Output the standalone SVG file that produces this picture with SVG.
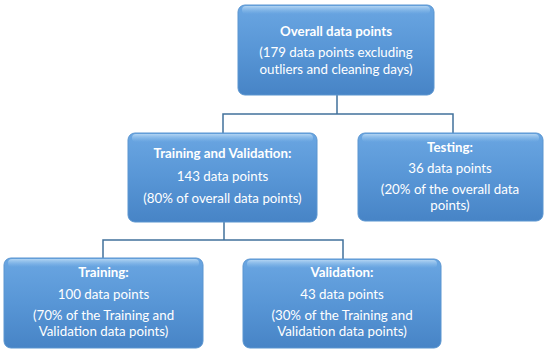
<svg xmlns="http://www.w3.org/2000/svg" width="550" height="356" viewBox="0 0 550 356">
<defs>
<linearGradient id="g" x1="0" y1="0" x2="0" y2="1">
<stop offset="0" stop-color="#6aa6e2"/>
<stop offset="0.5" stop-color="#5896d6"/>
<stop offset="1" stop-color="#4784c6"/>
</linearGradient>
<linearGradient id="hl" x1="0" y1="0" x2="0" y2="1">
<stop offset="0" stop-color="#b8d8f4" stop-opacity="0.9"/>
<stop offset="1" stop-color="#8fc0ec" stop-opacity="0"/>
</linearGradient>
<style>
.box{fill:url(#g);stroke:#5a95d0;stroke-width:1}
.hl{fill:url(#hl)}
.t{font-family:Lato,"Liberation Sans",sans-serif;font-size:13.3px;fill:#ffffff;text-anchor:middle}
.b{font-weight:bold}
.c{fill:none;stroke:#41719c;stroke-width:1.5}
</style>
</defs>
<g id="connectors">
<path class="c" d="M337,95 V114 M223,133 V114 H453 V133"/>
<path class="c" d="M224,222 V240 M103,258 V240 H343 V259"/>
</g>
<g id="overall">
<rect class="box" x="238" y="5" width="196" height="90" rx="7"/>
<rect class="hl" x="242" y="6" width="188" height="8" rx="4"/>
<text class="t b" x="336" y="36">Overall data points</text>
<text class="t" x="336" y="57">(179 data points excluding</text>
<text class="t" x="336" y="74">outliers and cleaning days)</text>
</g>
<g id="trainval">
<rect class="box" x="128" y="133" width="189" height="89" rx="7"/>
<rect class="hl" x="132" y="134" width="181" height="8" rx="4"/>
<text class="t b" x="222.5" y="158">Training and Validation:</text>
<text class="t" x="222.5" y="181">143 data points</text>
<text class="t" x="222.5" y="203">(80% of overall data points)</text>
</g>
<g id="testing">
<rect class="box" x="358" y="133" width="185" height="88" rx="7"/>
<rect class="hl" x="362" y="134" width="177" height="8" rx="4"/>
<text class="t b" x="450" y="152">Testing:</text>
<text class="t" x="450" y="173">36 data points</text>
<text class="t" x="450" y="194">(20% of the overall data</text>
<text class="t" x="450" y="210">points)</text>
</g>
<g id="training">
<rect class="box" x="4" y="258" width="199" height="90" rx="7"/>
<rect class="hl" x="8" y="259" width="191" height="8" rx="4"/>
<text class="t b" x="103.5" y="277">Training:</text>
<text class="t" x="103.5" y="299">100 data points</text>
<text class="t" x="103.5" y="320">(70% of the Training and</text>
<text class="t" x="103.5" y="336">Validation data points)</text>
</g>
<g id="validation">
<rect class="box" x="243" y="259" width="198" height="89" rx="7"/>
<rect class="hl" x="247" y="260" width="190" height="8" rx="4"/>
<text class="t b" x="342" y="277">Validation:</text>
<text class="t" x="342" y="299">43 data points</text>
<text class="t" x="342" y="320">(30% of the Training and</text>
<text class="t" x="342" y="336">Validation data points)</text>
</g>
</svg>
